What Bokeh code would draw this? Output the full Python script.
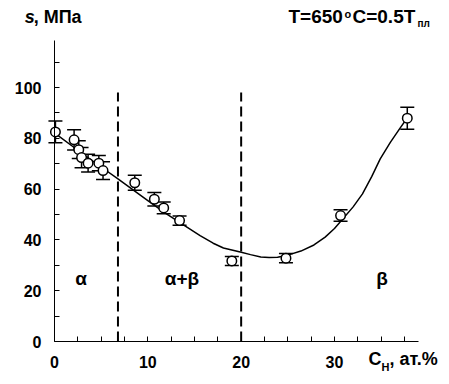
from bokeh.plotting import figure
from bokeh.models import Range1d, FixedTicker, Label, LinearAxis
from bokeh.embed import file_html
from bokeh.resources import INLINE

# measured points: hydrogen concentration (at.%), stress (MPa), error
c_h = [0.1, 2.1, 2.6, 2.9, 3.6, 4.75, 5.2, 8.6, 10.7, 11.7, 13.4, 19.0, 24.8, 30.65, 37.8]
sigma = [82.5, 79.4, 75.5, 72.4, 70.2, 70.2, 67.3, 62.5, 56.0, 52.6, 47.6, 31.7, 32.8, 49.6, 87.9]
err = [4.3, 4.0, 3.5, 4.0, 3.5, 3.0, 3.5, 3.0, 2.7, 2.3, 1.8, 1.8, 1.8, 2.3, 4.3]

# fitted curve
fit_x = [0.1, 2.5, 5.0, 6.8, 10.0, 12.0, 13.4, 15.6, 17.0, 18.1, 19.9, 21.0, 22.1, 23.0,
         23.9, 25.0, 26.4, 27.8, 29.0, 30.0, 30.65, 32.0, 33.0, 34.0, 34.9, 36.0, 37.1, 37.7]
fit_y = [81.8, 75.3, 68.7, 64.0, 55.5, 50.2, 46.9, 41.7, 38.7, 36.8, 35.2, 34.2, 33.3, 33.1,
         33.2, 34.0, 35.6, 38.0, 41.1, 44.5, 47.2, 53.0, 58.1, 65.0, 71.9, 78.5, 84.4, 87.5]

phase_bounds = [6.8, 20.0]
phase_top = 98.0

x_ticks = [0, 2.5, 5, 7.5, 10, 12.5, 15, 17.5, 20, 22.5, 25, 27.5, 30, 32.5, 35, 37.5]
x_labeled = [0, 10, 20, 30]
y_ticks = [0, 10, 20, 30, 40, 50, 60, 70, 80, 90, 100, 110]
y_labeled = [0, 20, 40, 60, 80, 100]

FONT = "Liberation Sans"
W, H = 449, 384
X0PX, Y0PX = 54, 341          # pixel position of the origin
XS, YS = 9.333, 2.54          # pixels per data unit

p = figure(width=W, height=H, output_backend="svg", toolbar_location=None,
           x_axis_type=None, y_axis_type=None,
           x_range=Range1d(-X0PX / XS, (W - X0PX) / XS),
           y_range=Range1d(-(H - Y0PX) / YS, Y0PX / YS),
           min_border=0)
p.outline_line_color = None
p.background_fill_color = "white"
p.border_fill_color = "white"

xax = LinearAxis(fixed_location=0, bounds=(0, 39))
yax = LinearAxis(fixed_location=0, bounds=(0, 118.7))
p.add_layout(xax, "below")
p.add_layout(yax, "left")

for ax, ticks, labeled in ((xax, x_ticks, x_labeled), (yax, y_ticks, y_labeled)):
    ax.ticker = FixedTicker(ticks=ticks)
    ax.major_label_overrides = {t: ("" if t not in labeled else str(int(t))) for t in ticks}
    ax.minor_tick_line_color = None
    ax.major_tick_in = 5
    ax.major_tick_out = 0
    ax.axis_line_color = "black"
    ax.major_tick_line_color = "black"
    ax.major_label_text_font = FONT
    ax.major_label_text_font_style = "bold"
    ax.major_label_text_color = "black"
    ax.major_label_text_font_size = "16px"
xax.major_label_standoff = 14
yax.major_label_standoff = 13

# phase boundaries
p.segment(x0=phase_bounds, y0=[0, 0], x1=phase_bounds, y1=[phase_top, phase_top],
          line_color="black", line_width=2, line_dash="10 5")

# fitted curve
p.line(fit_x, fit_y, line_color="black", line_width=1.5)

# error bars
lo = [s - e for s, e in zip(sigma, err)]
hi = [s + e for s, e in zip(sigma, err)]
p.segment(x0=c_h, y0=lo, x1=c_h, y1=hi, line_color="black", line_width=1.5)
p.scatter(c_h, lo, marker="dash", size=14, line_color="black", line_width=1.5)
p.scatter(c_h, hi, marker="dash", size=14, line_color="black", line_width=1.5)

# points
p.scatter(c_h, sigma, marker="circle", size=9.5, fill_color="white", line_color="black", line_width=1.5)

def lab(x, y, text, size, style="bold", **kw):
    p.add_layout(Label(x=x, y=y, text=text, text_font=FONT, text_font_size=size,
                       text_font_style=style, text_color="black", **kw))

# phase labels
lab(2.85, 20.7, "α", "19px", text_align="center")
lab(13.66, 20.7, "α+β", "19px", text_align="center")
lab(35.1, 20.7, "β", "19px", text_align="center")

# y title
lab(-3.2, 123.7, "s", "18px", style="bold italic")
lab(-3.2, 123.7, ", МПа", "18px", x_offset=9)

# condition title
lab(25.07, 123.7, "T=650", "19px")
lab(25.07, 123.7, "o", "11px", x_offset=56, y_offset=7)
lab(25.07, 123.7, "C=0.5T", "19px", x_offset=64)
lab(25.07, 123.7, "пл", "10px", x_offset=129, y_offset=-2)

# x title
lab(33.64, -10.75, "C", "18px")
lab(33.64, -10.75, "H", "11px", x_offset=13, y_offset=-4)
lab(33.64, -10.75, ", ат.%", "18px", x_offset=21)

open("out.html", "w").write(file_html(p, INLINE))
